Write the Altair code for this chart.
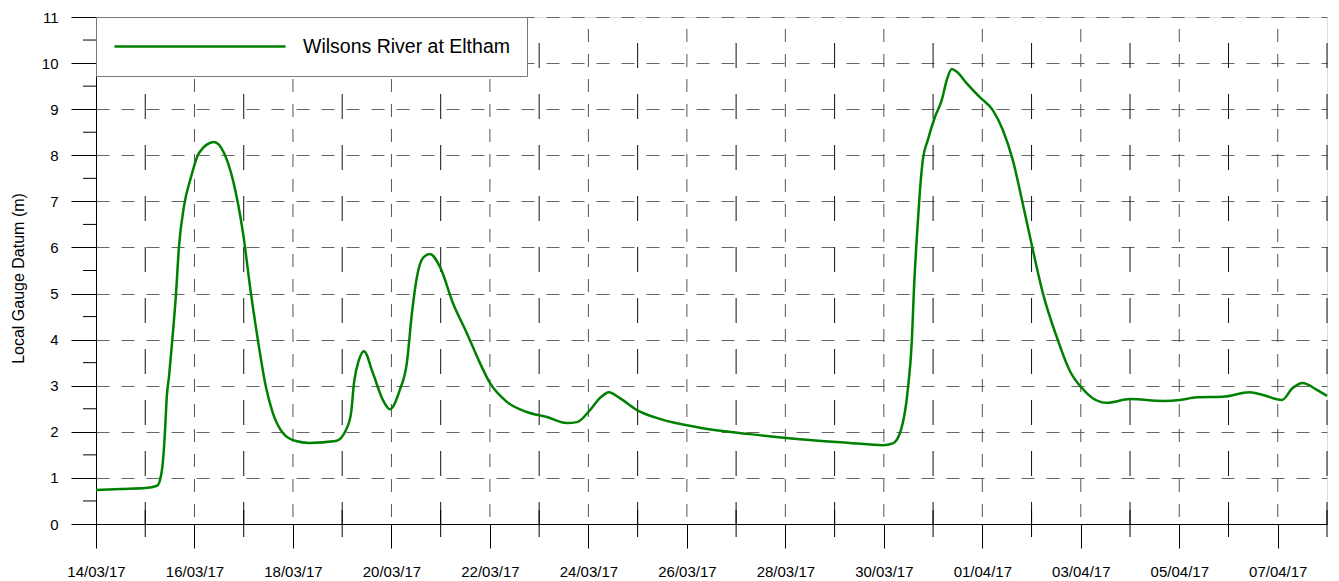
import altair as alt
import pandas as pd

# ---- data ----
times = [
    "2017-03-14T00:00", "2017-03-14T12:00", "2017-03-15T00:00", "2017-03-15T05:45",
    "2017-03-15T07:10", "2017-03-15T08:30", "2017-03-15T09:40", "2017-03-15T10:30",
    "2017-03-15T11:35", "2017-03-15T13:00", "2017-03-15T15:00", "2017-03-15T16:25",
    "2017-03-15T18:50", "2017-03-15T22:20", "2017-03-16T02:10", "2017-03-16T09:30",
    "2017-03-16T14:25", "2017-03-16T18:45", "2017-03-16T23:40", "2017-03-17T03:30",
    "2017-03-17T06:55", "2017-03-17T10:50", "2017-03-17T14:10", "2017-03-17T19:10",
    "2017-03-18T01:25", "2017-03-18T07:50", "2017-03-18T20:55", "2017-03-19T01:50",
    "2017-03-19T04:20", "2017-03-19T05:45", "2017-03-19T08:10", "2017-03-19T10:35",
    "2017-03-19T14:55", "2017-03-19T19:50", "2017-03-19T23:15", "2017-03-20T04:05",
    "2017-03-20T07:30", "2017-03-20T10:00", "2017-03-20T12:25", "2017-03-20T15:20",
    "2017-03-20T18:45", "2017-03-20T23:40", "2017-03-21T06:00", "2017-03-21T12:45",
    "2017-03-21T19:10", "2017-03-22T00:00", "2017-03-22T08:15", "2017-03-22T18:00",
    "2017-03-23T03:50", "2017-03-23T13:30", "2017-03-23T18:25", "2017-03-24T00:45",
    "2017-03-24T05:35", "2017-03-24T10:00", "2017-03-24T15:20", "2017-03-24T23:40",
    "2017-03-25T10:50", "2017-03-26T06:15", "2017-03-27T06:40", "2017-03-28T07:00",
    "2017-03-29T07:25", "2017-03-29T23:30", "2017-03-30T04:25", "2017-03-30T07:50",
    "2017-03-30T11:40", "2017-03-30T13:40", "2017-03-30T14:40", "2017-03-30T16:05",
    "2017-03-30T17:30", "2017-03-30T19:00", "2017-03-30T21:25", "2017-03-31T00:55",
    "2017-03-31T04:15", "2017-03-31T06:40", "2017-03-31T09:05", "2017-03-31T11:35",
    "2017-03-31T16:25", "2017-03-31T22:45", "2017-04-01T05:05", "2017-04-01T10:00",
    "2017-04-01T14:50", "2017-04-01T19:40", "2017-04-02T00:40", "2017-04-02T05:30",
    "2017-04-02T12:15", "2017-04-02T18:40", "2017-04-03T00:30", "2017-04-03T05:50",
    "2017-04-03T12:40", "2017-04-04T00:00", "2017-04-04T16:05", "2017-04-05T00:20",
    "2017-04-05T08:35", "2017-04-05T21:10", "2017-04-06T10:20", "2017-04-06T16:45",
    "2017-04-07T02:00", "2017-04-07T07:15", "2017-04-07T12:10", "2017-04-07T19:00",
    "2017-04-08T00:00",
]
levels = [
    0.74, 0.76, 0.78, 0.83,
    0.95, 1.30, 2.04, 2.76,
    3.20, 3.90, 5.00, 6.00,
    6.88, 7.53, 8.05, 8.29,
    8.05, 7.46, 6.31, 5.01,
    3.99, 2.97, 2.41, 1.97,
    1.80, 1.76, 1.80, 2.04,
    2.41, 3.06, 3.56, 3.75,
    3.28, 2.69, 2.49, 2.91,
    3.49, 4.58, 5.36, 5.77,
    5.86, 5.58, 4.79, 4.14,
    3.49, 3.06, 2.65, 2.43,
    2.32, 2.19, 2.21, 2.47,
    2.73, 2.86, 2.73, 2.47,
    2.28, 2.09, 1.95, 1.84,
    1.76, 1.71, 1.75, 1.97,
    2.91, 3.99, 5.08, 6.23,
    7.18, 7.90, 8.33, 8.83,
    9.20, 9.63, 9.87, 9.81,
    9.56, 9.26, 8.98, 8.55,
    7.90, 6.96, 5.94, 5.01,
    4.06, 3.32, 2.95, 2.73,
    2.63, 2.71, 2.67, 2.69,
    2.75, 2.76, 2.86, 2.80,
    2.69, 2.95, 3.06, 2.91,
    2.78,
]
series_name = "Wilsons River at Eltham"

# axis tick positions
label_days = ["2017-03-14", "2017-03-16", "2017-03-18", "2017-03-20", "2017-03-22",
              "2017-03-24", "2017-03-26", "2017-03-28", "2017-03-30", "2017-04-01",
              "2017-04-03", "2017-04-05", "2017-04-07"]
odd_days = ["2017-03-15", "2017-03-17", "2017-03-19", "2017-03-21", "2017-03-23",
            "2017-03-25", "2017-03-27", "2017-03-29", "2017-03-31", "2017-04-02",
            "2017-04-04", "2017-04-06", "2017-04-08"]
y_major = list(range(0, 12))
y_minor = [0.5, 1.5, 2.5, 3.5, 4.5, 5.5, 6.5, 7.5, 8.5, 9.5, 10.5]
y_title = "Local Gauge Datum (m)"

FONT = "Liberation Sans"

df = pd.DataFrame({"time": times, "level": levels, "series": series_name})
even_df = pd.DataFrame({"day": [d + "T00:00" for d in label_days[1:]]})
odd_df = pd.DataFrame({"day": [d + "T00:00" for d in odd_days]})
ymin_df = pd.DataFrame({"half": y_minor})


def dt(s):
    y, m, d = s.split("-")
    return alt.DateTime(year=int(y), month=int(m), date=int(d))


xscale = alt.Scale(domain=[dt("2017-03-14"), dt("2017-04-08")])
yscale = alt.Scale(domain=[0, 11], nice=False, zero=False)

x_axis = alt.Axis(
    values=[dt(d) for d in label_days], format="%d/%m/%y", title=None,
    grid=False, labelFlush=False, labelOverlap=False,
)
y_axis = alt.Axis(
    values=y_major, title=y_title, grid=True,
    titleX=-78, titleY=261,
)

X_RULE = dict(scale=xscale, axis=x_axis)

even_grid = alt.Chart(even_df).mark_rule(
    color="#555555", strokeWidth=1, strokeDash=[13, 12], strokeDashOffset=13
).encode(x=alt.X("day:T", **X_RULE))

odd_grid = alt.Chart(odd_df).mark_rule(
    color="#111111", strokeWidth=1, strokeDash=[25, 26], strokeDashOffset=25
).encode(x=alt.X("day:T", **X_RULE))

odd_ticks = alt.Chart(odd_df).mark_rule(color="black", strokeWidth=1).encode(
    x=alt.X("day:T", **X_RULE),
    y=alt.value(493), y2=alt.value(520),
)

y_minor_ticks = alt.Chart(ymin_df).mark_rule(color="black", strokeWidth=1).encode(
    y=alt.Y("half:Q", scale=yscale, axis=y_axis),
    x=alt.value(-13), x2=alt.value(0),
)

line = alt.Chart(df).mark_line(strokeWidth=2.5, interpolate="monotone").encode(
    x=alt.X("time:T", scale=xscale, axis=x_axis),
    y=alt.Y("level:Q", scale=yscale, axis=y_axis),
    color=alt.Color(
        "series:N",
        scale=alt.Scale(domain=[series_name], range=["#008000"]),
        legend=alt.Legend(
            title=None, orient="none", legendX=0, legendY=0,
            fillColor="white", strokeColor="#777777", padding=17,
            symbolType="stroke", symbolSize=29241, symbolStrokeWidth=2.5,
            clipHeight=25, labelFontSize=19.5, labelFont=FONT, labelColor="black",
            labelOffset=16, labelLimit=500,
        ),
    ),
)

chart = (
    alt.layer(even_grid, odd_grid, odd_ticks, y_minor_ticks, line)
    .properties(
        width=1231, height=507,
        autosize=alt.AutoSizeParams(type="none"),
        padding={"left": 88, "top": 9, "right": 2, "bottom": 54},
    )
    .configure_view(stroke=None)
    .configure(background="white")
    .configure_axisX(
        tickSize=24, tickColor="black", domainColor="black", grid=False,
        labelFontSize=15, labelFont=FONT, labelColor="black", labelPadding=16,
    )
    .configure_axisY(
        tickSize=25, tickColor="black", domainColor="black",
        gridDash=[13, 12], gridColor="#666666", gridWidth=1,
        labelFontSize=15, labelFont=FONT, labelColor="black", labelPadding=13,
        titleFont=FONT, titleFontSize=16, titleFontWeight="normal", titleColor="black",
        titleAngle=-90, titleAlign="center", titleBaseline="middle",
    )
)

chart.save("out.html", embed_options={"renderer": "svg", "actions": False})
